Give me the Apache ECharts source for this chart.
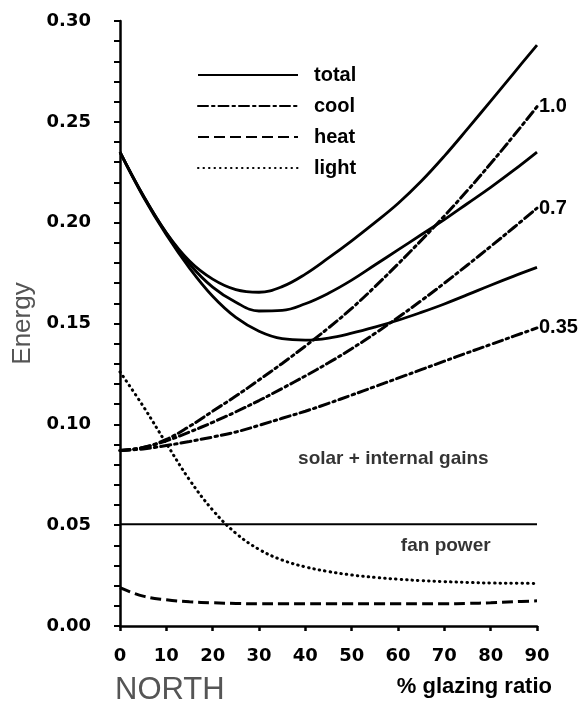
<!DOCTYPE html>
<html>
<head>
<meta charset="utf-8">
<title>Energy vs glazing ratio – NORTH</title>
<script src="https://cdn.jsdelivr.net/npm/echarts@6/dist/echarts.min.js"></script>
<style>
  html, body { margin: 0; padding: 0; background: #fff; }
  #chart { width: 582px; height: 708px; }
</style>
</head>
<body>
<div id="chart"></div>
<script>
// Glazing ratio (%) sample points
const glazing = [0, 5, 10, 15, 20, 25, 30, 35, 40, 45, 50, 55, 60, 65, 70, 75, 80, 85, 90];

// Total energy for shading coefficients 1.0, 0.7 and 0.35
const total100 = [0.235, 0.2135, 0.1950, 0.1810, 0.1720, 0.1668, 0.1655, 0.1683, 0.1745, 0.1825, 0.1910, 0.2000, 0.2095, 0.2205, 0.2330, 0.2465, 0.2603, 0.2742, 0.2880];
const total70  = [0.235, 0.2135, 0.1948, 0.1795, 0.1680, 0.1605, 0.1562, 0.1565, 0.1598, 0.1650, 0.1715, 0.1790, 0.1865, 0.1940, 0.2015, 0.2095, 0.2175, 0.2260, 0.2350];
const total35  = [0.235, 0.2130, 0.1940, 0.1775, 0.1635, 0.1530, 0.1462, 0.1425, 0.1418, 0.1428, 0.1452, 0.1482, 0.1516, 0.1555, 0.1597, 0.1643, 0.1690, 0.1735, 0.1778];

// Cooling energy for the same shading coefficients
const cool100 = [0.087, 0.0885, 0.0925, 0.0990, 0.1065, 0.1140, 0.1220, 0.1302, 0.1388, 0.1478, 0.1575, 0.1682, 0.1795, 0.1912, 0.2033, 0.2160, 0.2293, 0.2432, 0.2575];
const cool70  = [0.087, 0.0885, 0.0918, 0.0962, 0.1010, 0.1062, 0.1118, 0.1178, 0.1240, 0.1305, 0.1375, 0.1450, 0.1530, 0.1613, 0.1700, 0.1790, 0.1882, 0.1976, 0.2072];
const cool35  = [0.087, 0.0878, 0.0895, 0.0915, 0.0937, 0.0962, 0.0995, 0.1030, 0.1065, 0.1104, 0.1145, 0.1187, 0.1229, 0.1271, 0.1313, 0.1355, 0.1396, 0.1437, 0.1478];

// Heating and lighting energy
const heat  = [0.019, 0.0148, 0.013, 0.012, 0.0115, 0.0112, 0.011, 0.011, 0.011, 0.011, 0.011, 0.011, 0.011, 0.011, 0.011, 0.0112, 0.0115, 0.012, 0.0125];
const light = [0.126, 0.109, 0.0905, 0.0725, 0.0575, 0.0460, 0.0380, 0.0327, 0.0293, 0.0270, 0.0253, 0.0241, 0.0232, 0.0225, 0.0220, 0.0216, 0.0213, 0.0212, 0.0211];

// Constant fan power
const fanPowerX = [0, 90];
const fanPowerY = [0.0505, 0.0505];

// Shading-coefficient labels at the end of the cooling curves
const shadeLabels = ['1.0', '0.7', '0.35'];

// In-plot annotations (data coordinates)
const noteText = ['solar + internal gains', 'fan power'];
const noteX = [59, 70.3];
const noteY = [0.083, 0.0397];

// Axis ticks
const xTicks = { min: 0, max: 90, step: 10 };
const yTicks = { min: 0, max: 0.30, step: 0.05 };

const zip = (xs, ys) => xs.map((x, i) => [x, ys[i]]);

const BOLD = 'Liberation Sans';
const lineBase = { type: 'line', smooth: 0.4, showSymbol: false, symbol: 'none', silent: true, z: 3 };

const totalStyle = { color: '#000', width: 2.8, type: 'solid' };
const coolStyle  = { color: '#000', width: 3, type: [10, 4, 2.5, 4], cap: 'round' };
const heatStyle  = { color: '#000', width: 3, type: [11, 5] };
const lightStyle = { color: '#000', width: 3, type: [0.5, 5], cap: 'round' };

const coolSets = [cool100, cool70, cool35];
const totalSets = [total100, total70, total35];

const series = [];
totalSets.forEach((vals) => {
  series.push(Object.assign({}, lineBase, {
    name: 'total', data: zip(glazing, vals), lineStyle: Object.assign({}, totalStyle), itemStyle: { color: '#000' }
  }));
});
coolSets.forEach((vals, k) => {
  series.push(Object.assign({}, lineBase, {
    name: 'cool', data: zip(glazing, vals), lineStyle: Object.assign({}, coolStyle), itemStyle: { color: '#000' },
    endLabel: {
      show: true, formatter: shadeLabels[k], distance: 2,
      color: '#000', fontFamily: BOLD, fontWeight: 'bold', fontSize: 20
    }
  }));
});
series.push(Object.assign({}, lineBase, {
  name: 'heat', data: zip(glazing, heat), lineStyle: heatStyle, itemStyle: { color: '#000' }
}));
series.push(Object.assign({}, lineBase, {
  name: 'light', data: zip(glazing, light), lineStyle: lightStyle, itemStyle: { color: '#000' }
}));
series.push(Object.assign({}, lineBase, {
  name: 'fan power', smooth: false, data: zip(fanPowerX, fanPowerY),
  lineStyle: { color: '#000', width: 2 }, itemStyle: { color: '#000' }
}));
series.push({
  type: 'scatter', name: 'notes', silent: true, symbolSize: 1,
  itemStyle: { color: 'transparent' },
  data: noteText.map((t, i) => ({ value: [noteX[i], noteY[i]], name: t })),
  label: {
    show: true, position: 'inside', formatter: (p) => p.name,
    color: '#000', fontFamily: BOLD, fontWeight: 'bold', fontSize: 19
  }
});

const chart = echarts.init(document.getElementById('chart'), null, { renderer: 'canvas' });
chart.setOption({
  animation: false,
  backgroundColor: '#fff',
  title: {
    text: 'NORTH', left: 115, top: 675, padding: 0,
    textStyle: { fontFamily: 'Liberation Sans', fontWeight: 'normal', fontSize: 31, color: '#555' }
  },
  legend: {
    data: ['total', 'cool', 'heat', 'light'],
    orient: 'vertical', left: 192, top: 60,
    itemWidth: 100, itemHeight: 12, itemGap: 11,
    selectedMode: false,
    itemStyle: { opacity: 0 },
    textStyle: { fontFamily: BOLD, fontWeight: 'bold', fontSize: 20, color: '#000', padding: [0, 0, 0, 11] }
  },
  grid: { left: 120, right: 45, top: 21, bottom: 82 },
  xAxis: {
    type: 'value', min: xTicks.min, max: xTicks.max, interval: xTicks.step,
    name: '% glazing ratio', nameLocation: 'end', nameGap: 15,
    nameTextStyle: {
      align: 'right', verticalAlign: 'top', padding: [50, 0, 0, 0],
      fontFamily: BOLD, fontWeight: 'bold', fontSize: 22, color: '#000'
    },
    axisLine: { lineStyle: { color: '#000', width: 2.5 } },
    axisTick: { show: true, length: 5, lineStyle: { color: '#000', width: 2.5 } },
    axisLabel: { margin: 21, color: '#000', fontFamily: 'DejaVu Sans', fontWeight: 'bold', fontSize: 18 },
    splitLine: { show: false }
  },
  yAxis: {
    type: 'value', min: yTicks.min, max: yTicks.max, interval: yTicks.step,
    name: 'Energy', nameLocation: 'middle', nameGap: 84, nameRotate: 90,
    nameTextStyle: { fontFamily: 'Liberation Sans', fontWeight: 'normal', fontSize: 26, color: '#555' },
    axisLine: { lineStyle: { color: '#000', width: 2.5 } },
    axisTick: { show: true, length: 6, lineStyle: { color: '#000', width: 2 } },
    minorTick: { show: true, splitNumber: 5, length: 6, lineStyle: { color: '#000', width: 2 } },
    axisLabel: {
      margin: 29, color: '#000', fontFamily: 'DejaVu Sans', fontWeight: 'bold', fontSize: 18,
      formatter: (v) => v.toFixed(2)
    },
    splitLine: { show: false }
  },
  series: series
});
</script>
</body>
</html>
